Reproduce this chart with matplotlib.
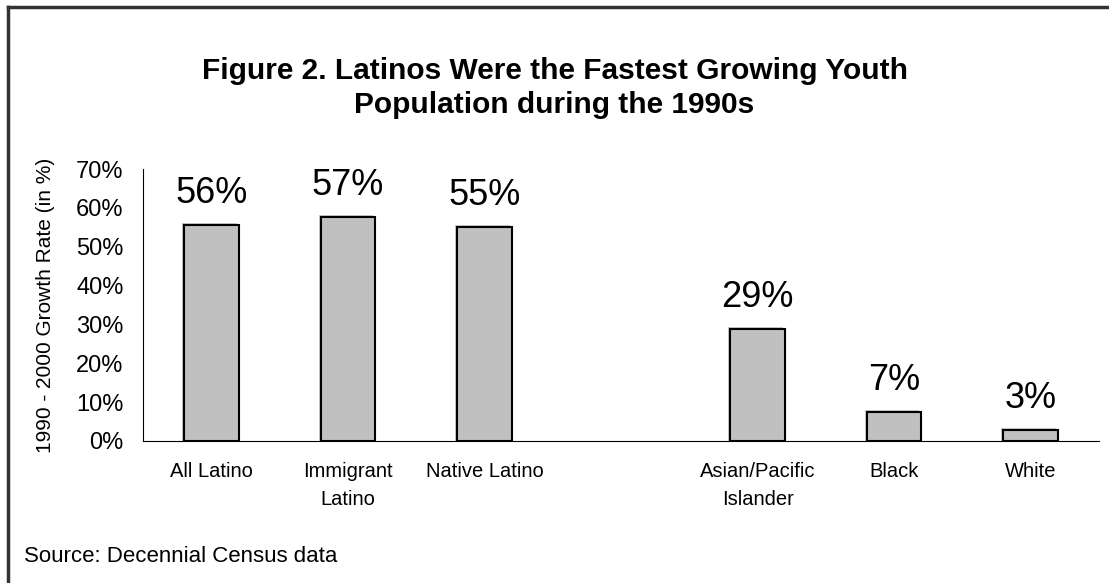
import matplotlib.pyplot as plt
import matplotlib.patches as patches
from matplotlib.lines import Line2D

plt.rcParams['font.family'] = ['Liberation Sans', 'DejaVu Sans']

# data
groups = ['All Latino', 'Immigrant\nLatino', 'Native Latino', '',
          'Asian/Pacific\nIslander', 'Black', 'White']
growth = [55.6, 57.6, 55.0, None, 28.9, 7.4, 2.9]
bar_labels = ['56%', '57%', '55%', '', '29%', '7%', '3%']
yticks = [0, 10, 20, 30, 40, 50, 60, 70]

fig = plt.figure(figsize=(11.09, 5.83), dpi=100)
fig.patch.set_facecolor('white')
ax = fig.add_axes([0.129, 0.2436, 0.862, 0.4665])

xs = [i for i, v in enumerate(growth) if v is not None]
vals = [v for v in growth if v is not None]
labs = [bar_labels[i] for i in xs]

# faint shadow behind bars
ax.bar([x - 0.015 for x in xs], [v + 0.5 for v in vals], width=0.4,
       color='#c8c8c8', edgecolor='none', zorder=1)
bars = ax.bar(xs, vals, width=0.4, color='#c0c0c0', edgecolor='black',
              linewidth=1.5, zorder=2)

for b, t in zip(bars, labs):
    ax.annotate(t, (b.get_x() + b.get_width() / 2, b.get_height()),
                xytext=(0, 10), textcoords='offset points',
                ha='center', va='bottom', fontsize=26)

ax.set_xlim(-0.5, 6.5)
ax.set_ylim(0, 70)
ax.set_xticks(range(len(groups)))
ax.set_xticklabels(groups, fontsize=14.5, linespacing=1.6)
ax.set_yticks(yticks)
ax.set_yticklabels([f'{t}%' for t in yticks], fontsize=17)
ax.tick_params(length=0)
ax.tick_params(axis='x', pad=15)
ax.tick_params(axis='y', pad=14)
ax.spines['top'].set_visible(False)
ax.spines['right'].set_visible(False)
ax.set_ylabel('1990 - 2000 Growth Rate (in %)', fontsize=15, labelpad=15)

fig.text(0.5, 0.849, 'Figure 2. Latinos Were the Fastest Growing Youth\nPopulation during the 1990s',
         ha='center', va='center', fontsize=21.5, fontweight='bold', linespacing=1.3)
fig.text(0.022, 0.045, 'Source: Decennial Census data', ha='left', va='center', fontsize=16)

# outer frame (left and top only visible)
fig.add_artist(Line2D([8 / 1109, 8 / 1109], [0, 1 - 7 / 583], color='#333333', lw=2.5))
fig.add_artist(Line2D([8 / 1109, 1], [1 - 7 / 583, 1 - 7 / 583], color='#333333', lw=2.5))

plt.savefig('out.png', dpi=100, facecolor='white')
plt.close()
